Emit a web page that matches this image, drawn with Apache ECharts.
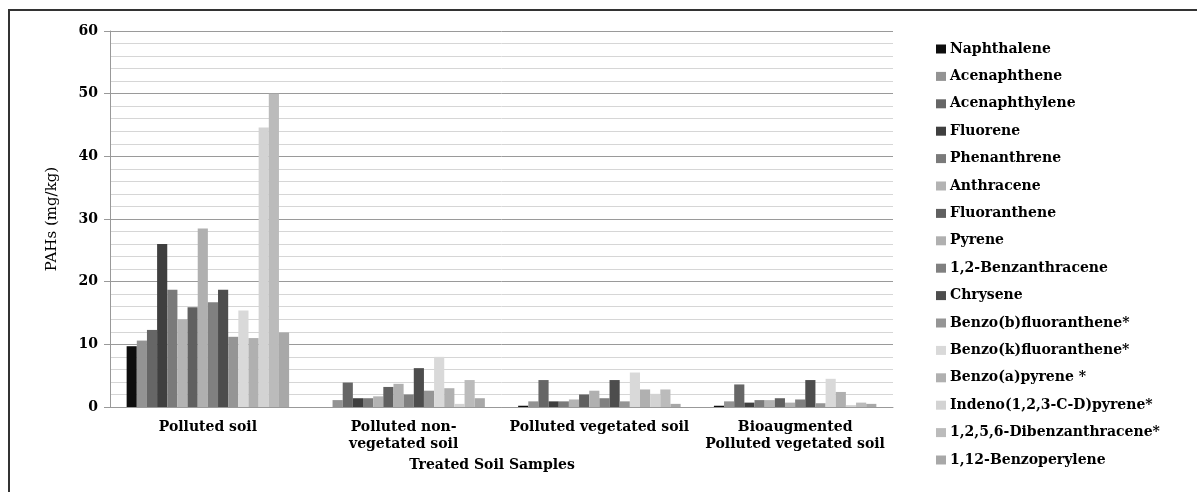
<!DOCTYPE html>
<html>
<head>
<meta charset="utf-8">
<script src="https://cdn.jsdelivr.net/npm/echarts@6/dist/echarts.min.js"></script>
<style>
html,body{margin:0;padding:0;background:#fff;}
#c{width:1197px;height:492px;}
</style>
</head>
<body>
<div id="c"></div>
<script>
var categories = ['Polluted soil', 'Polluted non-\nvegetated soil', 'Polluted vegetated soil', 'Bioaugmented\nPolluted vegetated soil'];
var seriesNames = ['Naphthalene', 'Acenaphthene', 'Acenaphthylene', 'Fluorene', 'Phenanthrene', 'Anthracene', 'Fluoranthene', 'Pyrene', '1,2-Benzanthracene', 'Chrysene', 'Benzo(b)fluoranthene*', 'Benzo(k)fluoranthene*', 'Benzo(a)pyrene *', 'Indeno(1,2,3-C-D)pyrene*', '1,2,5,6-Dibenzanthracene*', '1,12-Benzoperylene'];
var pollutedSoil = [9.7, 10.6, 12.3, 26.0, 18.7, 14.0, 15.9, 28.5, 16.7, 18.7, 11.2, 15.4, 11.0, 44.6, 50.0, 11.9];
var nonVegetated = [0, 1.1, 3.9, 1.4, 1.4, 1.7, 3.2, 3.7, 2.0, 6.2, 2.6, 8.0, 3.0, 0.5, 4.3, 1.4];
var vegetated = [0.2, 0.9, 4.3, 0.9, 0.9, 1.2, 2.0, 2.6, 1.4, 4.3, 0.9, 5.5, 2.8, 2.1, 2.8, 0.5];
var bioaugmented = [0.2, 0.9, 3.6, 0.7, 1.1, 1.1, 1.4, 0.7, 1.2, 4.3, 0.6, 4.5, 2.4, 0.3, 0.7, 0.5];
var yTicks = [0, 10, 20, 30, 40, 50, 60];

var colors = ['#0d0d0d', '#939393', '#666666', '#3f3f3f', '#7a7a7a', '#b3b3b3', '#606060', '#b0b0b0', '#808080', '#4d4d4d', '#959595', '#d9d9d9', '#b0b0b0', '#d3d3d3', '#bbbbbb', '#a8a8a8'];
var groups = [pollutedSoil, nonVegetated, vegetated, bioaugmented];
var serif = 'DejaVu Serif';

var series = seriesNames.map(function (n, i) {
  return {
    name: n,
    type: 'bar',
    barGap: 0,
    barCategoryGap: '17%',
    itemStyle: { color: colors[i] },
    data: groups.map(function (g) { return g[i]; })
  };
});

var chart = echarts.init(document.getElementById('c'));
chart.setOption({
  animation: false,
  backgroundColor: '#fff',
  grid: { left: 110, right: 304, top: 31, bottom: 85, containLabel: false },
  legend: {
    orient: 'vertical',
    left: 931,
    top: 37,
    icon: 'rect',
    itemWidth: 10,
    itemHeight: 9,
    itemGap: 13.4,
    textStyle: { fontFamily: serif, fontWeight: 'bold', fontSize: 14, color: '#000', padding: [0, 0, 0, -1] },
    data: seriesNames
  },
  xAxis: {
    type: 'category',
    data: categories,
    axisTick: { show: false },
    axisLine: { lineStyle: { color: '#999', width: 1 } },
    axisLabel: { interval: 0, margin: 12, fontFamily: serif, fontWeight: 'bold', fontSize: 14, color: '#000', lineHeight: 17 }
  },
  yAxis: {
    type: 'value',
    min: yTicks[0],
    max: yTicks[yTicks.length - 1],
    interval: 10,
    name: 'PAHs (mg/kg)',
    nameLocation: 'middle',
    nameGap: 50,
    nameRotate: 90,
    nameTextStyle: { fontFamily: serif, fontSize: 15, color: '#000' },
    axisLine: { show: true, lineStyle: { color: '#999' } },
    axisTick: { show: true, inside: false, length: 6, lineStyle: { color: '#999' } },
    axisLabel: { margin: 12, fontFamily: serif, fontWeight: 'bold', fontSize: 14, color: '#000' },
    splitLine: { show: true, lineStyle: { color: '#9a9a9a', width: 1 } },
    minorTick: { show: false, splitNumber: 5 },
    minorSplitLine: { show: true, lineStyle: { color: '#d6d6d6', width: 1 } }
  },
  graphic: [
    {
      type: 'text',
      x: 492,
      y: 465,
      style: { text: 'Treated Soil Samples', align: 'center', verticalAlign: 'middle', font: 'bold 14px "DejaVu Serif"', fill: '#000' }
    },
    {
      type: 'rect',
      shape: { x: 9, y: 10, width: 1220, height: 520 },
      style: { fill: 'none', stroke: '#333', lineWidth: 2 },
      silent: true
    }
  ],
  series: series
});
</script>
</body>
</html>
